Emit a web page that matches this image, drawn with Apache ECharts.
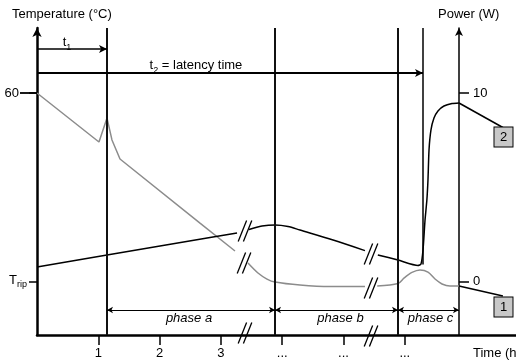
<!DOCTYPE html>
<html><head><meta charset="utf-8">
<script src="https://cdn.jsdelivr.net/npm/echarts@6/dist/echarts.min.js"></script>
<style>html,body{margin:0;padding:0;background:#fff}#c{width:516px;height:362px;background:#fff}</style>
</head><body><div id="c"></div>
<script>
// ---- data (time in h, vertical values in power units: 0 = T_rip / 0 W, 10 = 60 °C / 10 W) ----
const xTickValues = [1, 2, 3, 4, 5, 6];
const xTickLabels = ['1', '2', '3', '...', '...', '...'];
const leftTickValues = [0, 10];
const leftTickLabels = ['T_rip', '60'];
const rightTickValues = [0, 10];
const rightTickLabels = ['0', '10'];
const sixtyValue = 10;

// curve 1 (grey), split at the axis breaks
const curve1Seg1 = [[0, 10.0], [1.011, 7.40], [1.142, 8.67], [1.223, 7.51], [1.354, 6.50], [2.659, 3.10], [3.230, 1.62]];
const curve1Seg2 = [[3.442, 0.98], [3.605, 0.45], [3.752, 0.13], [3.883, -0.03], [4.29, -0.19], [4.78, -0.27], [5.35, -0.27]];
const curve1Seg3 = [[5.55, -0.24], [5.889, -0.11], [5.99, 0.19], [6.117, 0.48], [6.248, 0.61], [6.378, 0.50], [6.493, 0.13], [6.607, -0.13], [6.737, -0.24], [6.884, -0.24]];
// curve 2 (black)
const curve2Seg1 = [[0, 0.77], [1.142, 1.41], [2.871, 2.36], [3.263, 2.57]];
const curve2Seg2 = [[3.458, 2.76], [3.67, 2.94], [3.883, 3.00], [4.095, 2.92], [4.29, 2.73], [4.83, 2.20], [5.35, 1.64]];
const curve2Seg3 = [[5.56, 1.41], [5.889, 1.14], [6.215, 0.85], [6.264, 0.93], [6.297, 1.67], [6.33, 3.26], [6.36, 4.32], [6.378, 5.38], [6.395, 6.98], [6.427, 8.04], [6.476, 8.67], [6.541, 9.05], [6.639, 9.31], [6.77, 9.44], [6.884, 9.47]];

const dividerTimes = [1.142, 3.883, 5.889];
const t1End = 1.142;
const t2End = 6.297;
const t2LineBottom = 0.9;
const phaseBounds = [1.142, 3.883, 5.889, 6.884];
const phaseNames = ['phase a', 'phase b', 'phase c'];
const phaseLabelTimes = [2.48, 4.951, 6.419];
const breakPoints = [[3.393, 2.68], [3.377, 0.98], [5.449, 1.46], [5.449, -0.34], [3.393, -2.73], [5.449, -2.89]];
const boxLabels = ['1', '2'];
const boxPoints = [[7.61, -1.353], [7.61, 7.666]];
const leaderLines = [[[6.884, -0.24], [7.60, -0.77]], [[6.884, 9.47], [7.60, 8.17]]];

const yMin = -2.838, yMax = 13.448, xMax = 7.814;
const t1Y = 12.33, t2Y = 11.06, phaseY = -1.512, phaseLabelY = -1.936;

const FONT = '"Liberation Sans", Arial, sans-serif';
const chart = echarts.init(document.getElementById('c'), null, {renderer: 'canvas'});

const subRich = {
  a: {fontSize: 13, fontFamily: FONT, color: '#000', verticalAlign: 'bottom', padding: [0, 0, 3, 0]},
  b: {fontSize: 9, fontFamily: FONT, color: '#000', verticalAlign: 'bottom'}
};

function lineSeries(data, color, smooth) {
  return {type: 'line', data: data, showSymbol: false, symbol: 'none', smooth: smooth,
    lineStyle: {color: color, width: 1.5}, silent: true, z: 3, animation: false};
}

const markerLines = [];
dividerTimes.forEach(t => markerLines.push({xAxis: t, lineStyle: {width: 2, color: '#111'}}));
markerLines.push([{coord: [t2End, yMax], symbol: 'none'}, {coord: [t2End, t2LineBottom], symbol: 'none', lineStyle: {width: 1.5, color: '#000'}}]);
markerLines.push([{coord: [0, t1Y], symbol: 'none'}, {coord: [t1End, t1Y], symbol: 'arrow', symbolSize: [6, 8], lineStyle: {width: 1.5, color: '#000'}}]);
markerLines.push([{coord: [0, t2Y], symbol: 'none'}, {coord: [t2End, t2Y], symbol: 'arrow', symbolSize: [6, 8], lineStyle: {width: 2, color: '#000'}}]);
for (let i = 0; i < 3; i++) {
  markerLines.push([{coord: [phaseBounds[i], phaseY], symbol: 'arrow', symbolSize: [5, 6]},
    {coord: [phaseBounds[i + 1], phaseY], symbol: 'arrow', symbolSize: [5, 6], lineStyle: {width: 1, color: '#000'}}]);
}

const textItems = [
  {value: [0.49, 12.58], label: {formatter: '{a|t}{b|1}', rich: subRich}},
  {value: [2.593, 11.37], label: {formatter: '{a|t}{b|2}{a| = latency time}', rich: subRich}}
];
phaseNames.forEach((n, i) => textItems.push({value: [phaseLabelTimes[i], phaseLabelY],
  label: {formatter: n, fontStyle: 'italic', fontSize: 13, fontFamily: FONT, color: '#000'}}));

const option = {
  animation: false,
  grid: {left: 37, right: 0, top: 28, bottom: 27, containLabel: false},
  xAxis: {
    type: 'value', min: 0, max: xMax, interval: 1,
    axisLine: {show: true, onZero: false, lineStyle: {color: '#000', width: 2.5}},
    axisTick: {show: true, customValues: xTickValues, length: 10, lineStyle: {color: '#000', width: 1.5}},
    axisLabel: {show: true, customValues: xTickValues, margin: 12, fontSize: 13, fontFamily: FONT, color: '#000',
      formatter: v => xTickLabels[xTickValues.indexOf(Math.round(v))] || ''},
    splitLine: {show: false}
  },
  yAxis: [{
    type: 'value', min: yMin, max: yMax, position: 'left',
    axisLine: {show: true, onZero: false, symbol: ['none', 'arrow'], symbolSize: [7, 9], lineStyle: {color: '#000', width: 2.5}},
    axisTick: {show: true, customValues: leftTickValues, length: 8, lineStyle: {color: '#000', width: 1.5}},
    axisLabel: {show: true, customValues: leftTickValues, margin: 9, fontSize: 13, fontFamily: FONT, color: '#000',
      formatter: v => {
        const s = leftTickLabels[leftTickValues.indexOf(Math.round(v))];
        if (s === 'T_rip') return '{a|T}{b|rip}';
        return '{n|' + s + '}';
      },
      rich: {
        a: {fontSize: 13, fontFamily: FONT, color: '#000', verticalAlign: 'bottom', padding: [0, 0, 3, 0]},
        b: {fontSize: 9, fontFamily: FONT, color: '#000', verticalAlign: 'bottom', padding: [0, 1, 0, 0]},
        n: {fontSize: 13, fontFamily: FONT, color: '#000', padding: [0, 9, 0, 0]}
      }},
    splitLine: {show: false}
  }, {
    type: 'value', min: yMin, max: yMax, position: 'right', offset: -57,
    axisLine: {show: true, onZero: false, symbol: ['none', 'arrow'], symbolSize: [6, 8], lineStyle: {color: '#000', width: 1.5}},
    axisTick: {show: true, customValues: rightTickValues, length: 10, lineStyle: {color: '#000', width: 1.5}},
    axisLabel: {show: true, customValues: rightTickValues, margin: 14, fontSize: 13, fontFamily: FONT, color: '#000',
      formatter: v => rightTickLabels[rightTickValues.indexOf(Math.round(v))] || ''},
    splitLine: {show: false}
  }],
  graphic: [
    {id: 'ttl', type: 'text', left: 12, top: 8, style: {text: 'Temperature (°C)', font: '13px ' + FONT, fill: '#000'}},
    {id: 'ptl', type: 'text', left: 438, top: 8, style: {text: 'Power (W)', font: '13px ' + FONT, fill: '#000'}},
    {id: 'xtl', type: 'text', left: 473, top: 347, style: {text: 'Time (h)', font: '13px ' + FONT, fill: '#000'}}
  ],
  series: [
    Object.assign(lineSeries([], '#000', false), {markLine: {silent: true, symbol: 'none', label: {show: false},
      lineStyle: {type: 'solid', color: '#000'}, data: markerLines, animation: false}}),
    lineSeries(curve1Seg1, '#8c8c8c', false),
    lineSeries(curve1Seg2, '#8c8c8c', 0.3),
    lineSeries(curve1Seg3, '#8c8c8c', 0.3),
    lineSeries(curve2Seg1, '#000', false),
    lineSeries(curve2Seg2, '#000', 0.3),
    lineSeries(curve2Seg3, '#000', 0.2),
    lineSeries(leaderLines[0], '#000', false),
    lineSeries(leaderLines[1], '#000', false),
    {
      type: 'custom', silent: true, z: 5, data: breakPoints,
      renderItem: (params, api) => {
        const p = api.coord([api.value(0), api.value(1)]);
        const kids = [-1, 1].map(s => ({
          type: 'line',
          shape: {x1: p[0] + s * 2.6 - 4.2, y1: p[1] + 10.5, x2: p[0] + s * 2.6 + 4.2, y2: p[1] - 10.5},
          style: {stroke: '#000', lineWidth: 1.3}
        }));
        return {type: 'group', children: kids};
      }
    },
    {
      type: 'scatter', symbol: 'rect', symbolSize: [19, 20], z: 6, silent: true,
      itemStyle: {color: '#c8c8c8', borderColor: '#000', borderWidth: 1, opacity: 1},
      label: {show: true, position: 'inside', fontSize: 13, fontFamily: FONT, color: '#000', textBorderWidth: 0, formatter: p => p.name},
      data: boxPoints.map((p, i) => ({name: boxLabels[i], value: p}))
    },
    {
      type: 'scatter', symbolSize: 0, silent: true, z: 6,
      itemStyle: {opacity: 1, color: '#000'},
      label: {show: true, position: 'inside', fontSize: 13, fontFamily: FONT, color: '#000', textBorderWidth: 0, textBorderColor: 'transparent'},
      data: textItems
    }
  ]
};
chart.setOption(option);
// long tick for the "60" label, placed through the library's own scale
const p60 = chart.convertToPixel({yAxisIndex: 0}, sixtyValue);
const gridX = chart.convertToPixel({xAxisIndex: 0}, 0);
chart.setOption({graphic: [{id: 'tick60', type: 'rect', z: 100, zlevel: 0,
  shape: {x: gridX - 17, y: p60 - 0.9, width: 17, height: 1.8},
  style: {fill: '#000'}}]});
</script></body></html>
